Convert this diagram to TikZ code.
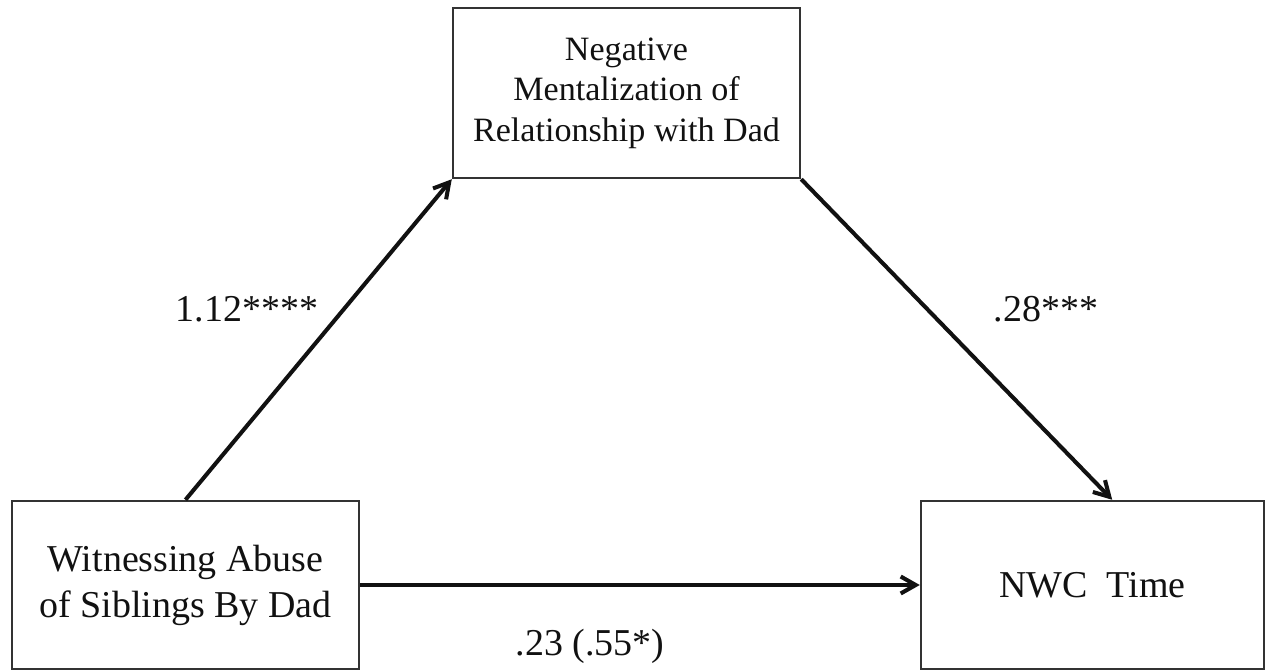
\documentclass[tikz,border=0pt]{standalone}
\usepackage{fontspec,xcolor,tikz}
\usetikzlibrary{arrows.meta,calc}
\setmainfont{Liberation Serif}
\definecolor{ink}{HTML}{111111}
\definecolor{frame}{HTML}{333333}
\newcommand{\boxtxt}{\fontsize{10.8}{13.1}\selectfont}
\newcommand{\toptxt}{\fontsize{9.7}{11.5}\selectfont}
\newcommand{\coeftxt}{\fontsize{10.8}{13}\selectfont}
\tikzset{
  varbox/.style={draw=frame,line width=0.7pt,minimum width=34.7mm,minimum height=16.8mm,
    align=center,inner sep=0,text=ink,font=\boxtxt},
  pathline/.style={ink,line width=1.15pt,-{Straight Barb[length=1.5mm,width=1.7mm]}},
  coef/.style={inner sep=0,anchor=base west,text=ink,font=\coeftxt}
}

\begin{document}
\begin{tikzpicture}[x=1mm,y=1mm]
\useasboundingbox (0,0) rectangle (126.6,67);
% the three variables
\node[varbox,minimum height=17mm,font=\toptxt] (mentz) at (62.65,57.7) {Negative\\Mentalization of\\Relationship with Dad};
\node[varbox] (witness) at (18.55,8.5) {Witnessing Abuse\\of Siblings By Dad};
\node[varbox,minimum width=34.3mm] (nwc) at (109.25,8.5) {NWC\ \ Time};
% paths
\draw[pathline] (witness.north) -- (mentz.south west);
\draw[pathline] (mentz.south east) -- ($(nwc.north west)!0.557!(nwc.north east)$);
\draw[pathline] (witness.east) -- (nwc.west);
% coefficients
\node[coef] (pa) at (17.5,34.8) {1.12****};
\node[coef] (pb) at (99.3,34.8) {.28***};
\node[coef] (pc) at (51.5,1.5) {.23 (.55*)};
\end{tikzpicture}
\end{document}
